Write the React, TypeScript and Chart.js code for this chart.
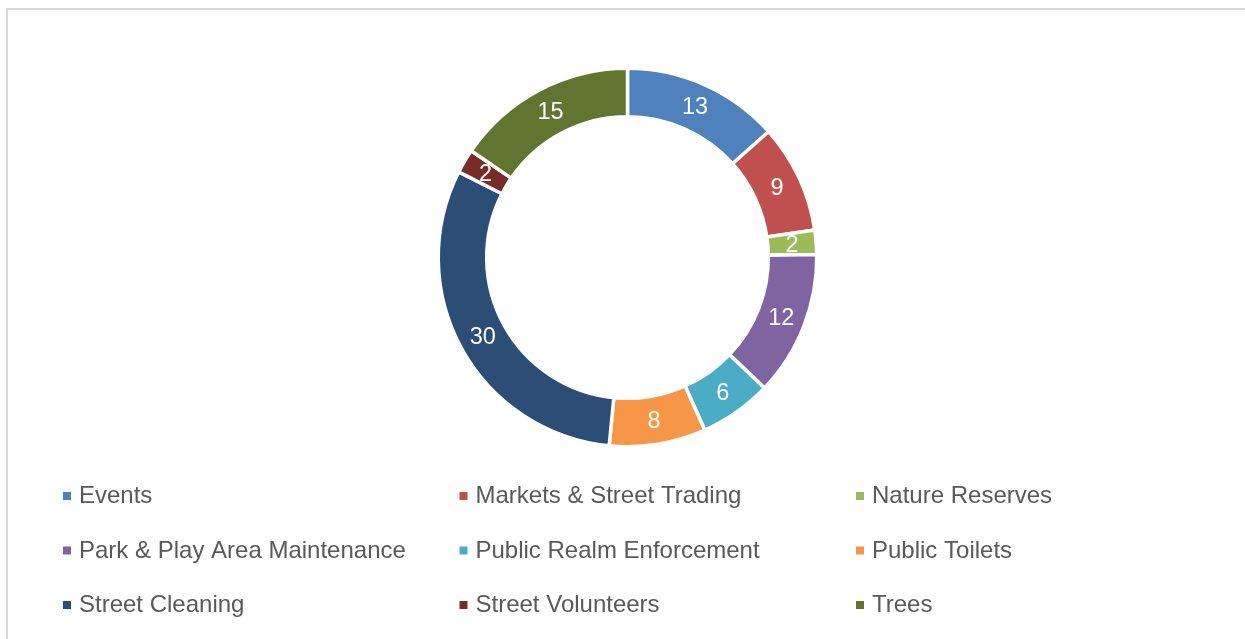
import React, { useEffect, useRef } from "react";
import { Chart, registerables } from "chart.js";

Chart.register(...registerables);

const categories: string[] = [
  "Events",
  "Markets & Street Trading",
  "Nature Reserves",
  "Park & Play Area Maintenance",
  "Public Realm Enforcement",
  "Public Toilets",
  "Street Cleaning",
  "Street Volunteers",
  "Trees",
];

const values: number[] = [13, 9, 2, 12, 6, 8, 30, 2, 15];

const colors: string[] = [
  "#4F81BD",
  "#C0504D",
  "#9BBB59",
  "#8064A2",
  "#4BACC6",
  "#F79646",
  "#2C4D75",
  "#772C2A",
  "#5F7530",
];

const FONT = '"Liberation Sans", Arial, sans-serif';

const sliceLabels = {
  id: "sliceLabels",
  afterDatasetsDraw(chart: any) {
    const ctx = chart.ctx;
    const meta = chart.getDatasetMeta(0);
    ctx.save();
    ctx.fillStyle = "#ffffff";
    ctx.font = `23.5px ${FONT}`;
    ctx.textAlign = "center";
    ctx.textBaseline = "middle";
    meta.data.forEach((arc: any, i: number) => {
      const p = arc.tooltipPosition();
      ctx.fillText(String(values[i]), p.x, p.y + 1);
    });
    ctx.restore();
  },
};

const gridLegend = {
  id: "gridLegend",
  afterDraw(chart: any) {
    const ctx = chart.ctx;
    const colX = [63, 459.5, 856];
    const rowBase = [503, 557.5, 612];
    ctx.save();
    ctx.font = `24px ${FONT}`;
    ctx.textAlign = "left";
    ctx.textBaseline = "alphabetic";
    categories.forEach((name, i) => {
      const c = i % 3;
      const r = Math.floor(i / 3);
      const x = colX[c];
      const y = rowBase[r];
      ctx.fillStyle = colors[i];
      ctx.fillRect(x, y - 11, 8, 8);
      ctx.fillStyle = "#595959";
      ctx.fillText(name, x + 16, y);
    });
    ctx.restore();
  },
};

export default function App() {
  const ref = useRef<HTMLCanvasElement | null>(null);

  useEffect(() => {
    if (!ref.current) return;
    const chart = new Chart(ref.current, {
      type: "doughnut",
      data: {
        labels: categories,
        datasets: [
          {
            data: values,
            backgroundColor: colors,
            borderColor: "#ffffff",
            borderWidth: 3.5,
          },
        ],
      },
      options: {
        responsive: false,
        animation: false,
        cutout: "74.4%",
        layout: {
          padding: { top: 66.5, bottom: 190.5, left: 436.5, right: 426.5 },
        },
        plugins: {
          legend: { display: false },
          tooltip: { enabled: false },
          title: { display: false },
        },
      },
      plugins: [sliceLabels, gridLegend],
    });
    return () => chart.destroy();
  }, []);

  return (
    <div
      style={{
        position: "fixed",
        left: 0,
        top: 0,
        width: 1245,
        height: 639,
        background: "#ffffff",
        overflow: "hidden",
      }}
    >
      <div
        style={{
          position: "absolute",
          left: 6,
          top: 8,
          width: 1400,
          height: 800,
          border: "2px solid #d9d9d9",
          boxSizing: "border-box",
        }}
      />
      <canvas
        ref={ref}
        width={1245}
        height={639}
        style={{ position: "absolute", left: 0, top: 0, width: 1245, height: 639 }}
      />
    </div>
  );
}
